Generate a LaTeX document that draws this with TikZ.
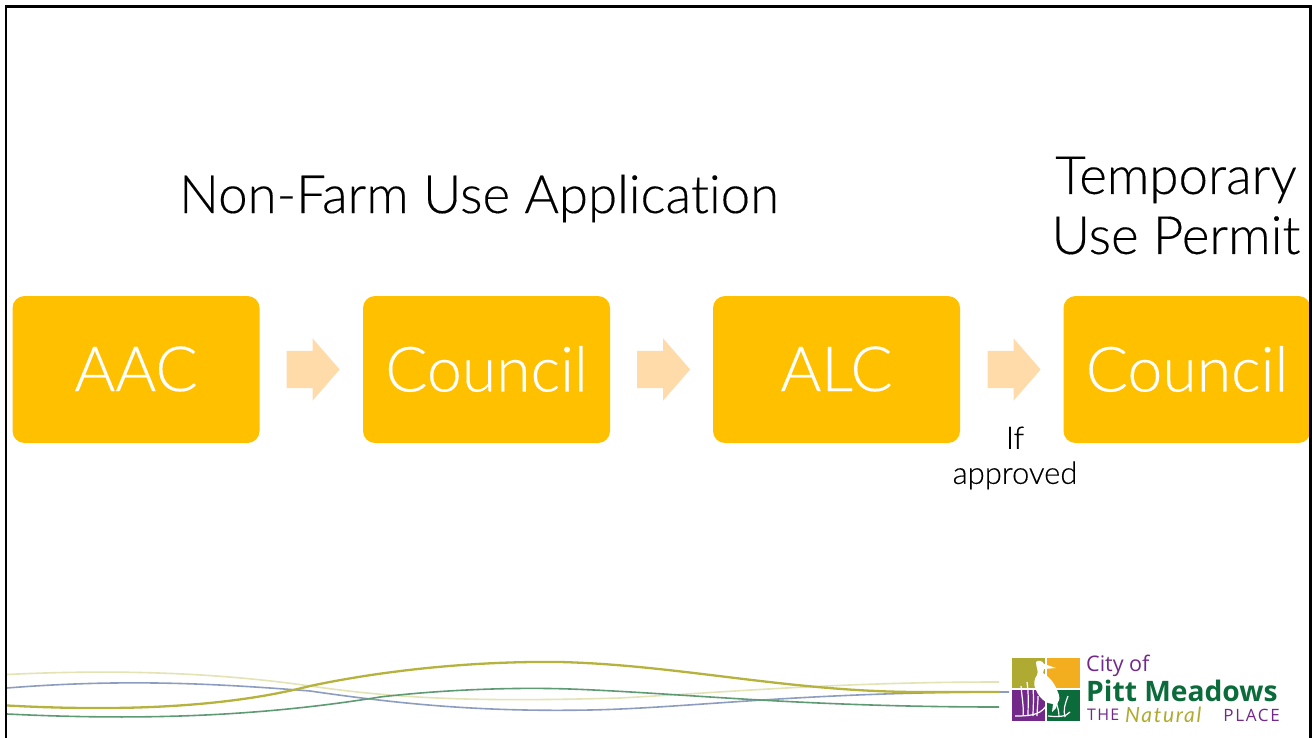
\documentclass[tikz,border=0pt]{standalone}
\usepackage{fontspec}
\setmainfont{Lato Light}[Ligatures=NoCommon,FakeBold=0.25]
\newfontfamily\logofont{Open Sans}
\newfontfamily\natfont{Lato}
\usetikzlibrary{shapes.arrows}
\definecolor{amber}{HTML}{FFC000}
\definecolor{peach}{HTML}{FFDBA9}
\definecolor{wolive}{HTML}{B5B33E}
\definecolor{wpale}{HTML}{E3E3B5}
\definecolor{wblue}{HTML}{8C9DBF}
\definecolor{wgreen}{HTML}{5E9A74}
\definecolor{lpurple}{HTML}{72298A}
\definecolor{lgreen}{HTML}{0B6B3A}
\definecolor{lolive}{HTML}{AFAB32}
\definecolor{lorange}{HTML}{F2AE1F}
\newcommand{\boxtext}[1]{\raisebox{1.5pt}{#1}}
\tikzset{
  stagebox/.style={fill=amber,rounded corners=12pt,minimum width=247pt,minimum height=147pt,inner sep=0pt,text=white,font=\fontsize{62.5}{62}\selectfont},
  flowarrow/.style={fill=peach,single arrow,single arrow head extend=12.5pt,single arrow head indent=0pt,single arrow tip angle=98,minimum height=53pt,inner sep=0pt,text height=37pt,text depth=0pt,text width=1pt},
  heading/.style={text=black,font=\fontsize{52.8}{60}\selectfont,inner sep=0pt,align=center},
  note/.style={text=black,font=\fontsize{31}{35}\selectfont,inner sep=0pt,align=center}
}
\begin{document}
\begin{tikzpicture}[x=1pt,y=-1pt]
\useasboundingbox (0,0) rectangle (1312,738);
\fill[white] (0,0) rectangle (1312,738);
\node[stagebox] (aac) at (136,369.5) {\boxtext{AAC}};
\node[stagebox] (c1) at (486.5,369.5) {\boxtext{Council}};
\node[stagebox] (alc) at (836.5,369.5) {\boxtext{ALC}};
\node[stagebox] (c2) at (1187,369.5) {\boxtext{Council}};
\node[flowarrow] (a1) at (305,369.5) {};
\node[flowarrow] (a2) at (655.5,369.5) {};
\node[flowarrow] (a3) at (1006,369.5) {};
\node[heading] (t1) at (479,198.5) {Non-Farm Use Application};
\node[heading] (t2) at (1176,205.5) {Temporary\\Use Permit};
\node[note] (n1) at (1015,458) {If\\approved};
% waves
\draw[wpale,line width=1.6pt] (7,674.5) .. controls (120,669) and (220,673) .. (310,686) .. controls (400,699) and (480,702) .. (620,698) .. controls (730,692) and (840,682) .. (999,682);
\draw[wblue,line width=1.6pt] (7,688) .. controls (120,679) and (210,683) .. (310,691) .. controls (400,704) and (480,712) .. (590,710) .. controls (690,708) and (800,692) .. (1009,692);
\draw[wolive,line width=2.3pt] (7,705.5) .. controls (110,711) and (220,709) .. (310,686) .. controls (390,669) and (480,661) .. (560,662) .. controls (680,665) and (790,692) .. (920,692) -- (1000,692);
\draw[wgreen,line width=1.6pt] (7,714) .. controls (130,720) and (250,718) .. (380,697) .. controls (440,690) and (510,687) .. (570,689) .. controls (680,693) and (800,707) .. (999,707);
% logo
\fill[lolive] (1012,657.5) rectangle (1045,688);
\fill[lorange] (1047,657.5) rectangle (1080,688);
\fill[lpurple] (1012,690) rectangle (1045,721);
\fill[lgreen] (1047,690) rectangle (1080,721);
\fill[white] (1036,662) .. controls (1038,660) and (1042,660) .. (1044,664) -- (1056,668) -- (1044,669) -- (1043,673) .. controls (1048,676) and (1054,682) .. (1057,690) .. controls (1060,696) and (1060,700) .. (1058,702) -- (1056,708) -- (1052,712) -- (1053,704) .. controls (1048,704) and (1040,700) .. (1036,690) .. controls (1033,684) and (1034,680) .. (1037,675) .. controls (1039,671) and (1036,668) .. (1036,662) -- cycle;
\foreach \xa/\ya/\xb/\yb/\xc/\yc/\xd/\yd in {
 1023/716/1024/708/1022/698/1021/686,
 1028/716/1028/706/1029/696/1027/682,
 1033/716/1033/708/1034/700/1033/688,
 1037/716/1037/710/1038/704/1038/696,
 1015/716/1026/716/1040/716/1046/706,
 1065/717/1063/710/1065/704/1068/696,
 1059/717/1059/712/1058/708/1056/702,
 1048/716/1058/717/1066/717/1070/712}
  \draw[white,line width=1.2pt] (\xa,\ya) .. controls (\xb,\yb) and (\xc,\yc) .. (\xd,\yd);
\node[anchor=west,inner sep=0pt,text=lpurple,font=\logofont\fontsize{21.5}{22}\selectfont] (l1) at (1086,665.5) {City of};
\node[anchor=west,inner sep=0pt,text=lgreen,font=\logofont\bfseries\fontsize{28.2}{28}\selectfont] (l2) at (1086,690.5) {Pitt Meadows};
\node[anchor=west,inner sep=0pt,text=lpurple,font=\logofont\addfontfeatures{LetterSpace=8}\fontsize{16}{16}\selectfont] (l3) at (1087,715) {THE};
\node[anchor=west,inner sep=0pt,text=lolive,font=\natfont\itshape\addfontfeatures{LetterSpace=8}\fontsize{21}{21}\selectfont] (l4) at (1125,714.5) {Natural};
\node[anchor=east,inner sep=0pt,text=lpurple,font=\logofont\addfontfeatures{LetterSpace=10}\fontsize{17}{17}\selectfont] (l5) at (1280,715) {PLACE};
% frame
\draw[black,line width=2.4pt] (6,738) -- (6,6.5) -- (1310.5,6.5) -- (1310.5,738);
\end{tikzpicture}
\end{document}
